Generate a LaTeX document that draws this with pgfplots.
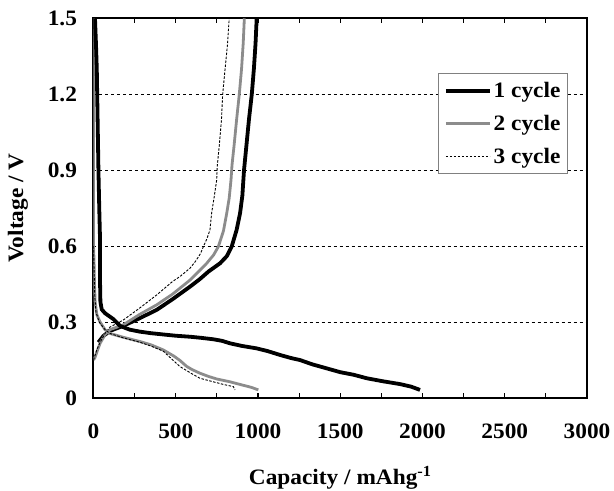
\documentclass[border=0pt]{standalone}
\usepackage{pgfplots}
\pgfplotsset{compat=1.18}
\usepackage{fontspec}
\setmainfont{Liberation Serif}[FakeStretch=1.06]
\usetikzlibrary{calc}
\definecolor{cyc2}{HTML}{8C8C8C}

\begin{document}
\begin{tikzpicture}
\begin{axis}[
    name=ax,
    scale only axis,
    width=493.5bp, height=379.7bp,
    xmin=0, xmax=3000, ymin=0, ymax=1.5,
    xtick={0,500,...,3000},
    minor xtick={250,750,...,2750},
    ytick={0,0.3,...,1.5},
    yticklabels={0,0.3,0.6,0.9,1.2,1.5},
    tick align=inside,
    major tick length=5bp, minor tick length=5bp,
    ytick style={draw=none},
    xtick style={line width=1.2bp, black},
    axis line style={line width=2bp},
    ymajorgrids=true,
    grid style={dash pattern=on 3bp off 3bp, line width=1bp, black},
    font=\fontsize{22bp}{26bp}\selectfont\bfseries,
    /pgf/number format/assume math mode=true,
    /pgf/number format/1000 sep={},
    scaled x ticks=false,
    xticklabel style={yshift=-22bp},
    yticklabel style={xshift=-13bp},
    xlabel={Capacity / mAhg\textsuperscript{-1}},
    ylabel={Voltage / V},
    xlabel style={at={(axis description cs:0.5,0)}, anchor=center, yshift=-80bp},
    ylabel style={at={(axis description cs:0,0.5)}, anchor=center, yshift=75.5bp},
    legend style={at={(rel axis cs:0.961,0.856)}, anchor=north east,
        draw=gray, line width=0.8bp, inner xsep=5bp, inner ysep=7bp,
        row sep=12bp, nodes={inner sep=2bp},
        font=\fontsize{22bp}{26bp}\selectfont\bfseries},
    legend cell align=left,
    legend image code/.code={\draw[#1] (0bp,0bp) -- (44bp,0bp);},
]
% cycle 1
\addplot[black, line width=3.8bp] coordinates {
(30,0.22)(60,0.245)(100,0.265)(181,0.285)(280,0.315)(384,0.348)(480,0.39)
(587,0.44)(647,0.47)(700,0.50)(769,0.532)(810,0.56)(840,0.598)(870,0.664)
(891,0.73)(905,0.80)(915,0.90)(930,1.0)(945,1.1)(962,1.198)(975,1.3)(985,1.4)(992,1.5)
};
% cycle 2
\addplot[cyc2, line width=2.8bp] coordinates {
(0,0.15)(9,0.16)(25,0.19)(40,0.216)(70,0.25)(100,0.27)(181,0.289)(280,0.33)
(384,0.368)(480,0.41)(587,0.466)(640,0.50)(688,0.532)(730,0.565)(759,0.598)
(790,0.66)(810,0.73)(825,0.79)(836,0.862)(842,0.92)(855,1.0)(870,1.1)
(886,1.198)(900,1.3)(910,1.4)(917,1.5)
};
% cycle 3
\addplot[black, line width=0.9bp, dash pattern=on 2.5bp off 1.5bp] coordinates {
(0,0.15)(20,0.19)(40,0.22)(70,0.255)(100,0.28)(181,0.308)(280,0.355)(384,0.407)
(480,0.46)(526,0.48)(587,0.513)(620,0.54)(650,0.57)(668,0.598)(690,0.63)
(708,0.664)(718,0.73)(735,0.80)(749,0.862)(752,0.914)(765,1.0)(778,1.1)
(785,1.198)(800,1.3)(815,1.4)(825,1.5)
};
\legend{1 cycle,2 cycle,3 cycle}
% discharge branches
\addplot[cyc2, line width=2.8bp, forget plot] coordinates {
(0,1.5)(0,0.6)(3,0.55)(6,0.45)(10,0.38)(20,0.33)(40,0.30)(70,0.27)(100,0.255)
(180,0.24)(283,0.223)(350,0.21)(424,0.19)(490,0.165)(526,0.148)(566,0.125)
(600,0.112)(647,0.098)(700,0.085)(750,0.075)(830,0.064)(900,0.052)(960,0.042)(1002,0.032)
};
\addplot[black, line width=0.9bp, dash pattern=on 2.5bp off 1.5bp, forget plot] coordinates {
(0,0.6)(4,0.5)(8,0.4)(15,0.34)(35,0.30)(70,0.27)(100,0.255)(180,0.238)
(283,0.22)(350,0.205)(424,0.185)(526,0.124)(600,0.095)(647,0.078)(728,0.064)
(800,0.052)(850,0.045)(860,0.032)
};
\addplot[black, line width=3.8bp, forget plot] coordinates {
(9,1.5)(15,1.40)(20,1.30)(25,1.1)(30,0.9)(35,0.75)(40,0.62)(40,0.45)(42,0.38)
(50,0.35)(70,0.335)(120,0.312)(161,0.285)(220,0.27)(283,0.262)(350,0.256)
(424,0.251)(500,0.246)(587,0.242)(650,0.238)(728,0.232)(780,0.226)(830,0.216)
(900,0.206)(992,0.196)(1060,0.185)(1134,0.17)(1200,0.158)(1255,0.150)
(1330,0.133)(1418,0.117)(1500,0.102)(1580,0.092)(1661,0.078)(1760,0.066)
(1863,0.055)(1930,0.045)(1985,0.032)
};
\end{axis}
\pgfresetboundingbox
\path ($(ax.south west)+(-93.5bp,-93bp)$) rectangle ($(ax.north east)+(27bp,18.3bp)$);
\end{tikzpicture}
\end{document}
